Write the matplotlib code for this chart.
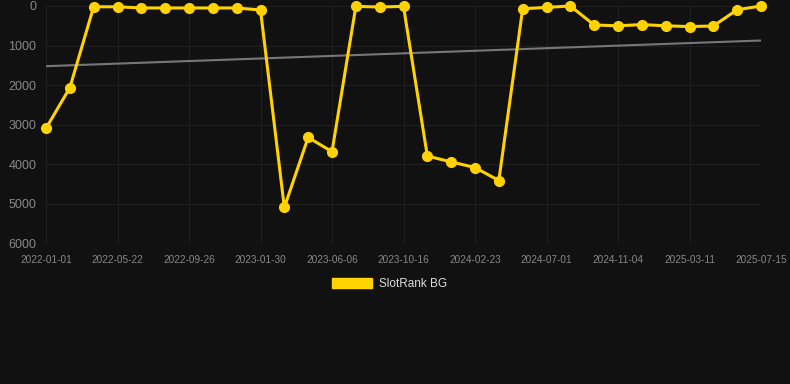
import numpy as np
import matplotlib
matplotlib.use("Agg")
import matplotlib.pyplot as plt
from matplotlib.patches import Patch

# Data (rank, lower is better)
ranks = [3090, 2065, 20, 20, 50, 50, 50, 50, 50, 100,
         5090, 3320, 3680, 10, 25, 10, 3790, 3940, 4080, 4410,
         70, 35, 0, 480, 500, 470, 500, 520, 505, 95, 0]
tick_labels = ["2022-01-01", "2022-05-22", "2022-09-26", "2023-01-30",
               "2023-06-06", "2023-10-16", "2024-02-23", "2024-07-01",
               "2024-11-04", "2025-03-11", "2025-07-15"]
series_name = "SlotRank BG"

x = np.arange(len(ranks))
coef = np.polyfit(x, ranks, 1)
trend = np.polyval(coef, x)

bg = "#111111"
fig = plt.figure(figsize=(7.9, 3.84), dpi=100, facecolor=bg)
ax = fig.add_axes([46 / 790, 1 - 243.5 / 384, 715 / 790, 237.5 / 384])
ax.set_facecolor(bg)

ax.plot(x, trend, color="#777777", lw=1.5, zorder=2)
ax.plot(x, ranks, color="#FFD200", lw=2.2, marker="o", ms=7, zorder=3, clip_on=False)

ax.set_xlim(0, len(ranks) - 1)
ax.set_ylim(6000, 0)
ax.set_yticks([0, 1000, 2000, 3000, 4000, 5000, 6000])
ax.set_xticks(x[::3])
ax.set_xticklabels(tick_labels)

ax.grid(True, color="#1f1f1f", lw=0.8)
for s in ax.spines.values():
    s.set_visible(False)
ax.tick_params(axis="both", length=0, colors="#888888")
ax.tick_params(axis="y", labelsize=9, pad=7)
ax.tick_params(axis="x", labelsize=7.2, pad=8)
for lab in ax.get_xticklabels() + ax.get_yticklabels():
    lab.set_family("Liberation Sans")

leg = fig.legend(handles=[Patch(color="#FFD200", label=series_name)],
                 loc="center", bbox_to_anchor=(389.5 / 790, 1 - 284 / 384),
                 frameon=False, handlelength=3.4, handleheight=1.0,
                 handletextpad=0.55,
                 prop={"family": "Liberation Sans", "size": 8.5})
for t in leg.get_texts():
    t.set_color("#dddddd")

fig.savefig("out.png", dpi=100, facecolor=bg)
